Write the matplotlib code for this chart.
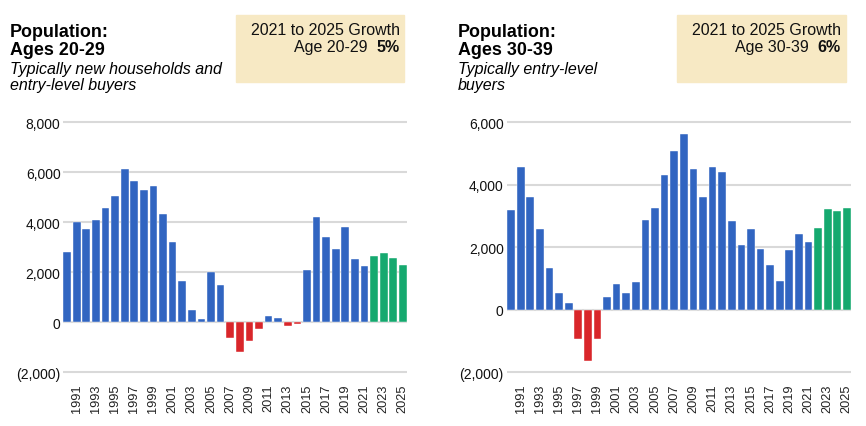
import matplotlib
matplotlib.use("Agg")
import matplotlib.pyplot as plt
from matplotlib.ticker import FuncFormatter

plt.rcParams['font.family'] = ['Liberation Sans', 'DejaVu Sans']

years = list(range(1990, 2026))
forecast_start = 2022

pop_20_29 = [2830, 4000, 3750, 4100, 4570, 5050, 6150, 5670, 5280, 5450,
             4330, 3220, 1650, 480, 150, 2000, 1500, -630, -1200, -750,
             -250, 250, 170, -160, -50, 2100, 4220, 3430, 2920, 3800,
             2550, 2270, 2670, 2780, 2560, 2290]

pop_30_39 = [3200, 4570, 3600, 2580, 1330, 550, 230, -920, -1640, -920,
             400, 830, 540, 900, 2880, 3260, 4310, 5090, 5640, 4500,
             3620, 4570, 4420, 2840, 2080, 2600, 1960, 1430, 930, 1900,
             2430, 2180, 2630, 3230, 3150, 3260]

ticks_20_29 = [-2000, 0, 2000, 4000, 6000, 8000]
ticks_30_39 = [-2000, 0, 2000, 4000, 6000]
year_labels = list(range(1991, 2026, 2))

titles = [("Population:", "Ages 20-29", "Typically new households and", "entry-level buyers"),
          ("Population:", "Ages 30-39", "Typically entry-level", "buyers")]
box_line1 = "2021 to 2025 Growth"
box_ages = ["Age 20-29", "Age 30-39"]
box_growth = ["5%", "6%"]

BLUE = '#3165c1'
RED = '#d9262a'
GREEN = '#15a96f'
BOX = '#f7e9c4'
GRID = '#d9d9d9'

W, H = 866, 427
fig = plt.figure(figsize=(W / 100, H / 100), dpi=100)


def fx(x):
    return x / W


def fy(y):
    return 1 - y / H


def fmt(v, pos=None):
    if v < 0:
        return "({:,.0f})".format(-v)
    return "{:,.0f}".format(v)


def make_axes(left_px, right_px, values, ticks, ymin, ymax, pad):
    top_px, bottom_px = 120.8, 375.8
    ax = fig.add_axes([fx(left_px), fy(bottom_px), (right_px - left_px) / W, (bottom_px - top_px) / H])
    cols = []
    for yr, v in zip(years, values):
        if yr >= forecast_start:
            cols.append(GREEN)
        elif v < 0:
            cols.append(RED)
        else:
            cols.append(BLUE)
    ax.bar(years, values, width=0.8, color=cols, edgecolor='#ffffff', linewidth=0.3, zorder=3)
    ax.set_xlim(years[0] - 0.4, years[-1] + 0.4)
    ax.set_ylim(ymin, ymax)
    ax.set_yticks(ticks)
    ax.yaxis.set_major_formatter(FuncFormatter(fmt))
    ax.set_xticks(year_labels)
    ax.set_xticklabels([str(y) for y in year_labels], rotation=90, fontsize=9.2, color='#222222')
    ax.tick_params(axis='y', length=0, pad=pad, labelsize=10, labelcolor='#111111')
    ax.tick_params(axis='x', length=0, pad=6)
    for s in ax.spines.values():
        s.set_visible(False)
    ax.grid(axis='y', color=GRID, linewidth=1.5, zorder=0)
    ax.set_axisbelow(True)
    return ax


make_axes(63.3, 406.7, pop_20_29, ticks_20_29, -2100, 8100, 2)
make_axes(507.3, 850.7, pop_30_39, ticks_30_39, -2080, 6080, 2.6)

# titles
for (tx, t) in [(10, titles[0]), (458, titles[1])]:
    fig.text(fx(tx), fy(36.7), t[0], fontsize=12.9, fontweight='bold', va='baseline', ha='left')
    fig.text(fx(tx), fy(55.2), t[1], fontsize=12.9, fontweight='bold', va='baseline', ha='left')
    fig.text(fx(tx), fy(74), t[2], fontsize=11.5, style='italic', va='baseline', ha='left')
    fig.text(fx(tx), fy(90), t[3], fontsize=11.5, style='italic', va='baseline', ha='left')

# growth boxes
for (bl, br, tr, ar), age, g in zip([(236, 404, 400, 367), (677, 846, 841, 809)], box_ages, box_growth):
    fig.patches.append(plt.Rectangle((fx(bl), fy(83)), (br - bl) / W, (83 - 16) / H,
                                     transform=fig.transFigure, color=BOX, zorder=0))
    fig.text(fx(tr), fy(35), box_line1, fontsize=11.5, ha='right', va='baseline', color='#111111')
    fig.text(fx(ar), fy(52.3), age, fontsize=11.5, ha='right', va='baseline', color='#111111')
    fig.text(fx(tr), fy(52.3), g, fontsize=11.5, fontweight='bold', ha='right', va='baseline', color='#111111')

fig.savefig('out.png', dpi=100)
